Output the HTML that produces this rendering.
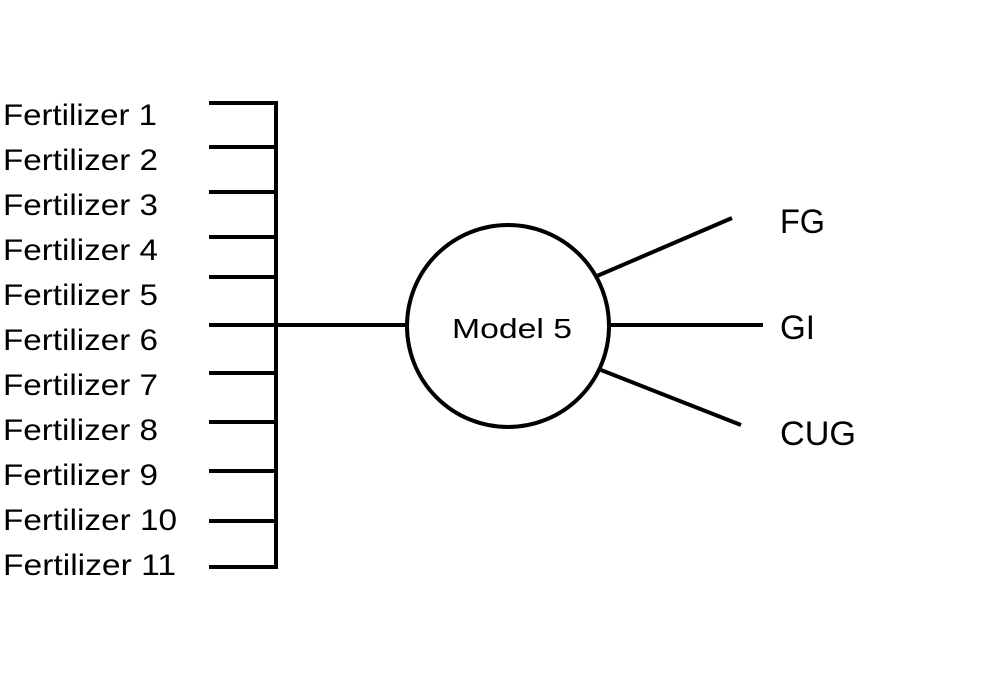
<!DOCTYPE html>
<html><head><style>html,body{margin:0;padding:0;background:#fff;}svg{display:block;}</style></head>
<body>
<svg width="1000" height="700" viewBox="0 0 1000 700" xmlns="http://www.w3.org/2000/svg" font-family="Liberation Sans, sans-serif" fill="#000">
<g stroke="#000" stroke-width="4" fill="none">
<line x1="276" y1="101" x2="276" y2="569"/>
<line x1="209" y1="103" x2="276" y2="103"/>
<line x1="209" y1="147" x2="276" y2="147"/>
<line x1="209" y1="192" x2="276" y2="192"/>
<line x1="209" y1="237" x2="276" y2="237"/>
<line x1="209" y1="277" x2="276" y2="277"/>
<line x1="209" y1="325" x2="408" y2="325"/>
<line x1="209" y1="373" x2="276" y2="373"/>
<line x1="209" y1="422" x2="276" y2="422"/>
<line x1="209" y1="471" x2="276" y2="471"/>
<line x1="209" y1="521" x2="276" y2="521"/>
<line x1="209" y1="567" x2="276" y2="567"/>
<circle cx="508" cy="326" r="101"/>
<line x1="597" y1="276" x2="732" y2="218"/>
<line x1="610" y1="325" x2="763" y2="325"/>
<line x1="601" y1="370" x2="741" y2="425"/>
</g>
<g font-size="30">
<text x="3" y="125" textLength="154" lengthAdjust="spacingAndGlyphs">Fertilizer 1</text>
<text x="3" y="170" textLength="155" lengthAdjust="spacingAndGlyphs">Fertilizer 2</text>
<text x="3" y="215" textLength="155" lengthAdjust="spacingAndGlyphs">Fertilizer 3</text>
<text x="3" y="260" textLength="155" lengthAdjust="spacingAndGlyphs">Fertilizer 4</text>
<text x="3" y="305" textLength="155" lengthAdjust="spacingAndGlyphs">Fertilizer 5</text>
<text x="3" y="350" textLength="155" lengthAdjust="spacingAndGlyphs">Fertilizer 6</text>
<text x="3" y="395" textLength="155" lengthAdjust="spacingAndGlyphs">Fertilizer 7</text>
<text x="3" y="440" textLength="155" lengthAdjust="spacingAndGlyphs">Fertilizer 8</text>
<text x="3" y="485" textLength="155" lengthAdjust="spacingAndGlyphs">Fertilizer 9</text>
<text x="3" y="530" textLength="174" lengthAdjust="spacingAndGlyphs">Fertilizer 10</text>
<text x="3" y="575" textLength="173" lengthAdjust="spacingAndGlyphs">Fertilizer 11</text>
</g>
<text x="452" y="338" font-size="28" textLength="120" lengthAdjust="spacingAndGlyphs">Model 5</text>
<g font-size="34">
<text x="780" y="233" textLength="45" lengthAdjust="spacingAndGlyphs">FG</text>
<text x="780" y="339" textLength="35" lengthAdjust="spacingAndGlyphs">GI</text>
<text x="780" y="445" textLength="76" lengthAdjust="spacingAndGlyphs">CUG</text>
</g>
</svg>
</body></html>
